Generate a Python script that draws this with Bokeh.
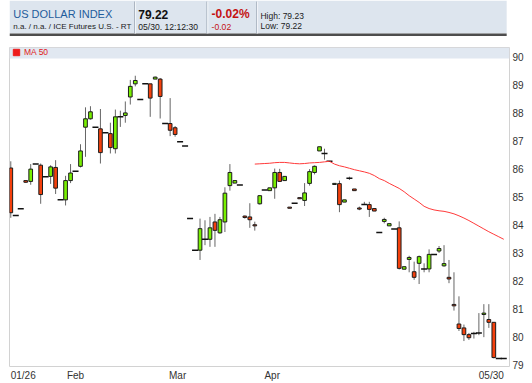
from bokeh.plotting import figure
from bokeh.layouts import column
from bokeh.models import (ColumnDataSource, Range1d, FixedTicker, BoxAnnotation,
                          Legend, LegendItem)
from bokeh.core.properties import value
from bokeh.embed import file_html
from bokeh.resources import INLINE

# ---------------- data ----------------
title = "US DOLLAR INDEX"
subtitle = "n.a. / n.a. / ICE Futures U.S. - RT"
last_price = 79.22
timestamp = "05/30. 12:12:30"
change = -0.02
change_pct = -0.02
day_high = 79.23
day_low = 79.22

slots = list(range(100))
opens = [86.03, 84.33, 84.57, 85.58, 85.55, 86.17, 86.13, 85.72, 85.73, 86.05,
         84.89, 84.89, 85.58, 85.91, 86.09, 87.49, 87.79, 87.49, 87.43, 87.29,
         87.26, 86.72, 87.86, 87.91, 88.57, 89.04, 88.48, 89.04, 89.04, 89.21,
         89.21, 87.62, 87.62, 87.47, 86.97, 86.82, 84.22, 83.09, 83.09, 83.48,
         83.48, 84.10, 83.71, 84.10, 85.40, 85.49, 85.42, 84.31, 84.28, 84.00,
         84.75, 85.24, 85.22, 85.32, 85.87, 85.58, 84.63, 84.77, 84.97, 84.87,
         85.48, 85.87, 86.64, 86.55, 86.27, 85.44, 85.47, 84.81, 85.66, 85.28,
         84.60, 84.72, 84.72, 84.58, 83.72, 84.12, 83.96, 83.85, 83.89, 82.41,
         82.76, 82.32, 82.62, 82.42, 82.42, 82.94, 83.06, 82.53, 82.12, 81.15,
         80.45, 80.31, 80.07, 80.11, 80.13, 80.79, 80.61, 80.51, 79.22, 79.22]
highs = [86.27, 84.33, 84.57, 85.58, 86.17, 86.17, 86.19, 85.72, 86.13, 86.31,
         84.89, 85.75, 86.17, 85.91, 86.88, 88.20, 88.24, 87.49, 88.14, 87.29,
         87.65, 88.12, 88.08, 88.41, 89.18, 89.33, 88.48, 89.04, 89.04, 89.30,
         89.25, 87.62, 88.53, 87.53, 86.97, 86.82, 84.22, 83.09, 84.22, 84.16,
         84.28, 84.39, 84.28, 85.34, 86.17, 85.58, 85.42, 84.33, 84.77, 84.11,
         85.06, 85.24, 85.32, 86.01, 86.00, 85.73, 84.63, 84.77, 84.97, 85.49,
         85.99, 86.12, 86.79, 86.72, 86.27, 85.48, 85.58, 84.89, 85.72, 85.28,
         84.65, 84.82, 84.82, 84.58, 83.72, 84.25, 84.04, 83.85, 84.12, 82.50,
         82.89, 82.68, 82.90, 82.62, 83.12, 82.94, 83.24, 83.27, 82.74, 82.30,
         81.44, 80.43, 80.13, 80.17, 80.84, 81.16, 81.16, 80.51, 79.22, 79.22]
lows = [84.25, 84.33, 84.57, 85.50, 85.43, 86.17, 84.75, 85.72, 85.46, 85.10,
        84.89, 84.69, 85.49, 85.91, 86.05, 86.43, 87.76, 87.49, 86.19, 87.29,
        86.55, 86.55, 87.50, 87.65, 88.30, 88.95, 88.48, 89.04, 87.86, 89.21,
        87.80, 87.62, 87.17, 87.15, 86.97, 86.82, 84.22, 83.09, 82.74, 83.27,
        83.21, 83.21, 83.68, 83.74, 85.22, 85.49, 85.42, 84.22, 83.89, 83.79,
        84.72, 85.24, 85.22, 84.93, 85.55, 85.58, 84.59, 84.77, 84.93, 84.67,
        85.40, 85.80, 86.64, 86.33, 86.27, 85.44, 84.45, 84.81, 85.60, 85.22,
        84.52, 84.72, 84.28, 84.49, 83.72, 84.05, 83.96, 83.85, 82.40, 82.41,
        82.30, 82.03, 81.88, 82.30, 82.30, 82.94, 82.99, 82.50, 81.91, 80.93,
        80.20, 79.84, 79.88, 79.93, 80.05, 79.98, 80.31, 79.22, 79.22, 79.22]
closes = [84.43, 84.33, 84.57, 85.52, 85.99, 86.17, 85.08, 85.72, 86.07, 85.31,
          84.89, 85.58, 85.85, 85.91, 86.64, 87.79, 88.04, 87.49, 86.58, 87.29,
          86.76, 87.86, 87.86, 88.00, 88.95, 89.16, 88.48, 89.04, 88.53, 89.28,
          88.59, 87.62, 87.38, 87.23, 86.97, 86.82, 84.22, 83.09, 83.86, 83.48,
          83.89, 83.80, 84.18, 85.13, 85.87, 85.58, 85.42, 84.26, 84.18, 83.96,
          85.04, 85.24, 85.32, 85.87, 85.55, 85.73, 84.59, 84.77, 84.93, 85.14,
          85.90, 86.09, 86.79, 86.55, 86.27, 85.48, 84.72, 84.89, 85.66, 85.22,
          84.56, 84.72, 84.55, 84.49, 83.72, 84.19, 84.04, 83.85, 82.44, 82.50,
          82.83, 82.12, 82.86, 82.42, 82.94, 82.94, 83.15, 82.61, 82.06, 81.10,
          80.29, 80.07, 79.96, 80.11, 80.13, 80.84, 80.51, 79.25, 79.22, 79.22]

ma_slots = list(range(49, 100))
ma50 = [86.17, 86.18, 86.19, 86.20, 86.22, 86.23, 86.23, 86.21, 86.19, 86.18,
        86.19, 86.21, 86.22, 86.23, 86.25, 86.27, 86.17, 86.11, 86.07, 86.02,
        85.97, 85.93, 85.89, 85.84, 85.76, 85.65, 85.58, 85.48, 85.39, 85.30,
        85.18, 85.04, 84.92, 84.80, 84.66, 84.58, 84.53, 84.50, 84.48, 84.44,
        84.39, 84.32, 84.24, 84.15, 84.05, 83.95, 83.85, 83.75, 83.66, 83.57,
        83.48]

date_ticks = [2.5, 13, 33.5, 52.5, 96.5]
date_labels = ["01/26", "Feb", "Mar", "Apr", "05/30"]
price_ticks = list(range(79, 91))

# ---------------- styles ----------------
FONT_NAME = "Liberation Sans"
FONT = value(FONT_NAME)
GREEN = "#78f000"
RED = "#f4400c"

# ---------------- header ----------------
hdr = figure(width=532, height=37, x_range=Range1d(0, 532), y_range=Range1d(37, 0),
             output_backend="svg", toolbar_location=None, x_axis_type=None,
             y_axis_type=None, min_border=0, outline_line_color=None)
hdr.grid.visible = False
hdr.quad(left=[0], right=[529], top=[0], bottom=[33], fill_color="#dde5ee", line_color=None)
hdr.quad(left=[0], right=[529], top=[33], bottom=[35.5], fill_color="#4d4d4d", line_color=None)
hdr.segment(x0=[133, 210, 263], y0=[1, 1, 1], x1=[133, 210, 263], y1=[33, 33, 33],
            line_color="#a7b1be", line_width=1)
hdr.segment(x0=[134, 211, 264], y0=[1, 1, 1], x1=[134, 211, 264], y1=[33, 33, 33],
            line_color="#f4f7fa", line_width=1)

hdr.text(x=[4], y=[13.5], text=[title], text_font=FONT, text_font_size="11px",
         text_color="#1f5c9c", text_baseline="middle")
hdr.text(x=[4], y=[26], text=[subtitle], text_font=FONT, text_font_size="8px",
         text_color="#1a1a1a", text_baseline="middle")
hdr.text(x=[137], y=[13.5], text=[f"{last_price:.2f}"], text_font=FONT,
         text_font_size="12px", text_font_style="bold", text_color="#111111",
         text_baseline="middle")
hdr.text(x=[137], y=[26], text=[timestamp], text_font=FONT, text_font_size="8.6px",
         text_color="#1a1a1a", text_baseline="middle")
hdr.text(x=[215], y=[13.5], text=[f"{change_pct:.2f}%"], text_font=FONT,
         text_font_size="12px", text_font_style="bold", text_color="#c41212",
         text_baseline="middle")
hdr.text(x=[215], y=[26], text=[f"{change:.2f}"], text_font=FONT, text_font_size="8.6px",
         text_color="#c41212", text_baseline="middle")
hdr.text(x=[267], y=[15], text=[f"High: {day_high:.2f}"], text_font=FONT,
         text_font_size="8.5px", text_color="#1a1a1a", text_baseline="middle")
hdr.text(x=[267], y=[25.5], text=[f"Low: {day_low:.2f}"], text_font=FONT,
         text_font_size="8.5px", text_color="#1a1a1a", text_baseline="middle")

# ---------------- main chart ----------------
p = figure(width=532, height=346, x_range=Range1d(-0.26, 100.15),
           y_range=Range1d(78.93, 90.34), y_axis_location="right",
           output_backend="svg", toolbar_location=None,
           min_border_left=9, min_border_right=23, min_border_top=10, min_border_bottom=16)
p.grid.visible = False
p.outline_line_color = "#d2d2d2"
p.background_fill_color = "white"

n = len(slots)
wick_i = [i for i in range(n) if highs[i] > lows[i]]
body_i = [i for i in range(n) if opens[i] != closes[i]]
flat_i = [i for i in range(n) if opens[i] == closes[i]]

wsrc = ColumnDataSource(dict(x=[slots[i] for i in wick_i],
                             h=[highs[i] for i in wick_i],
                             l=[lows[i] for i in wick_i]))
bsrc = ColumnDataSource(dict(x=[slots[i] for i in body_i],
                             t=[max(opens[i], closes[i]) for i in body_i],
                             b=[min(opens[i], closes[i]) for i in body_i],
                             c=[GREEN if closes[i] > opens[i] else RED for i in body_i]))
fsrc = ColumnDataSource(dict(x=[slots[i] for i in flat_i], y=[closes[i] for i in flat_i]))

p.segment(x0="x", y0="h", x1="x", y1="l", source=wsrc, line_color="#666666", line_width=1)
p.vbar(x="x", width=0.74, top="t", bottom="b", source=bsrc, fill_color="c",
       line_color="#1c1c1c", line_width=1)
p.scatter(x="x", y="y", source=fsrc, marker="dash", size=6, line_color="#111111",
          line_width=1.5)
ma_line = p.line(ma_slots, ma50, line_color="#ff3a3a", line_width=1)

band = BoxAnnotation(bottom=89.95, fill_color="#e1e8f1", fill_alpha=1.0, line_color=None)
p.add_layout(band)
# legend swatch: zero-size square markers on the MA data (nothing drawn in the plot);
# the legend draws its own square scaled to the glyph box
sq = p.scatter(ma_slots, ma50, marker="square", size=0, fill_color="#ee1c1c",
               line_color="#ee1c1c")
legend = Legend(items=[LegendItem(label="MA 50", renderers=[sq])],
                location=(-1, 306), orientation="horizontal",
                background_fill_alpha=0, border_line_alpha=0, click_policy="none",
                margin=0, padding=0, glyph_width=16, glyph_height=16, label_standoff=-3,
                label_height=16, label_text_font=FONT_NAME, label_text_font_size="8.5px",
                label_text_color="#e02020")
p.add_layout(legend)

p.xaxis.ticker = FixedTicker(ticks=date_ticks)
p.xaxis.major_label_overrides = {t: s for t, s in zip(date_ticks, date_labels)}
p.yaxis.ticker = FixedTicker(ticks=price_ticks)
for ax in (p.xaxis, p.yaxis):
    ax.axis_line_color = None
    ax.major_tick_line_color = None
    ax.minor_tick_line_color = None
    ax.major_tick_out = 0
    ax.major_tick_in = 0
    ax.major_label_text_font = FONT_NAME
    ax.major_label_text_font_size = "10px"
    ax.major_label_text_color = "#333333"
    ax.major_label_standoff = 3

layout = column(hdr, p)

open("out.html", "w").write(file_html(layout, INLINE))
